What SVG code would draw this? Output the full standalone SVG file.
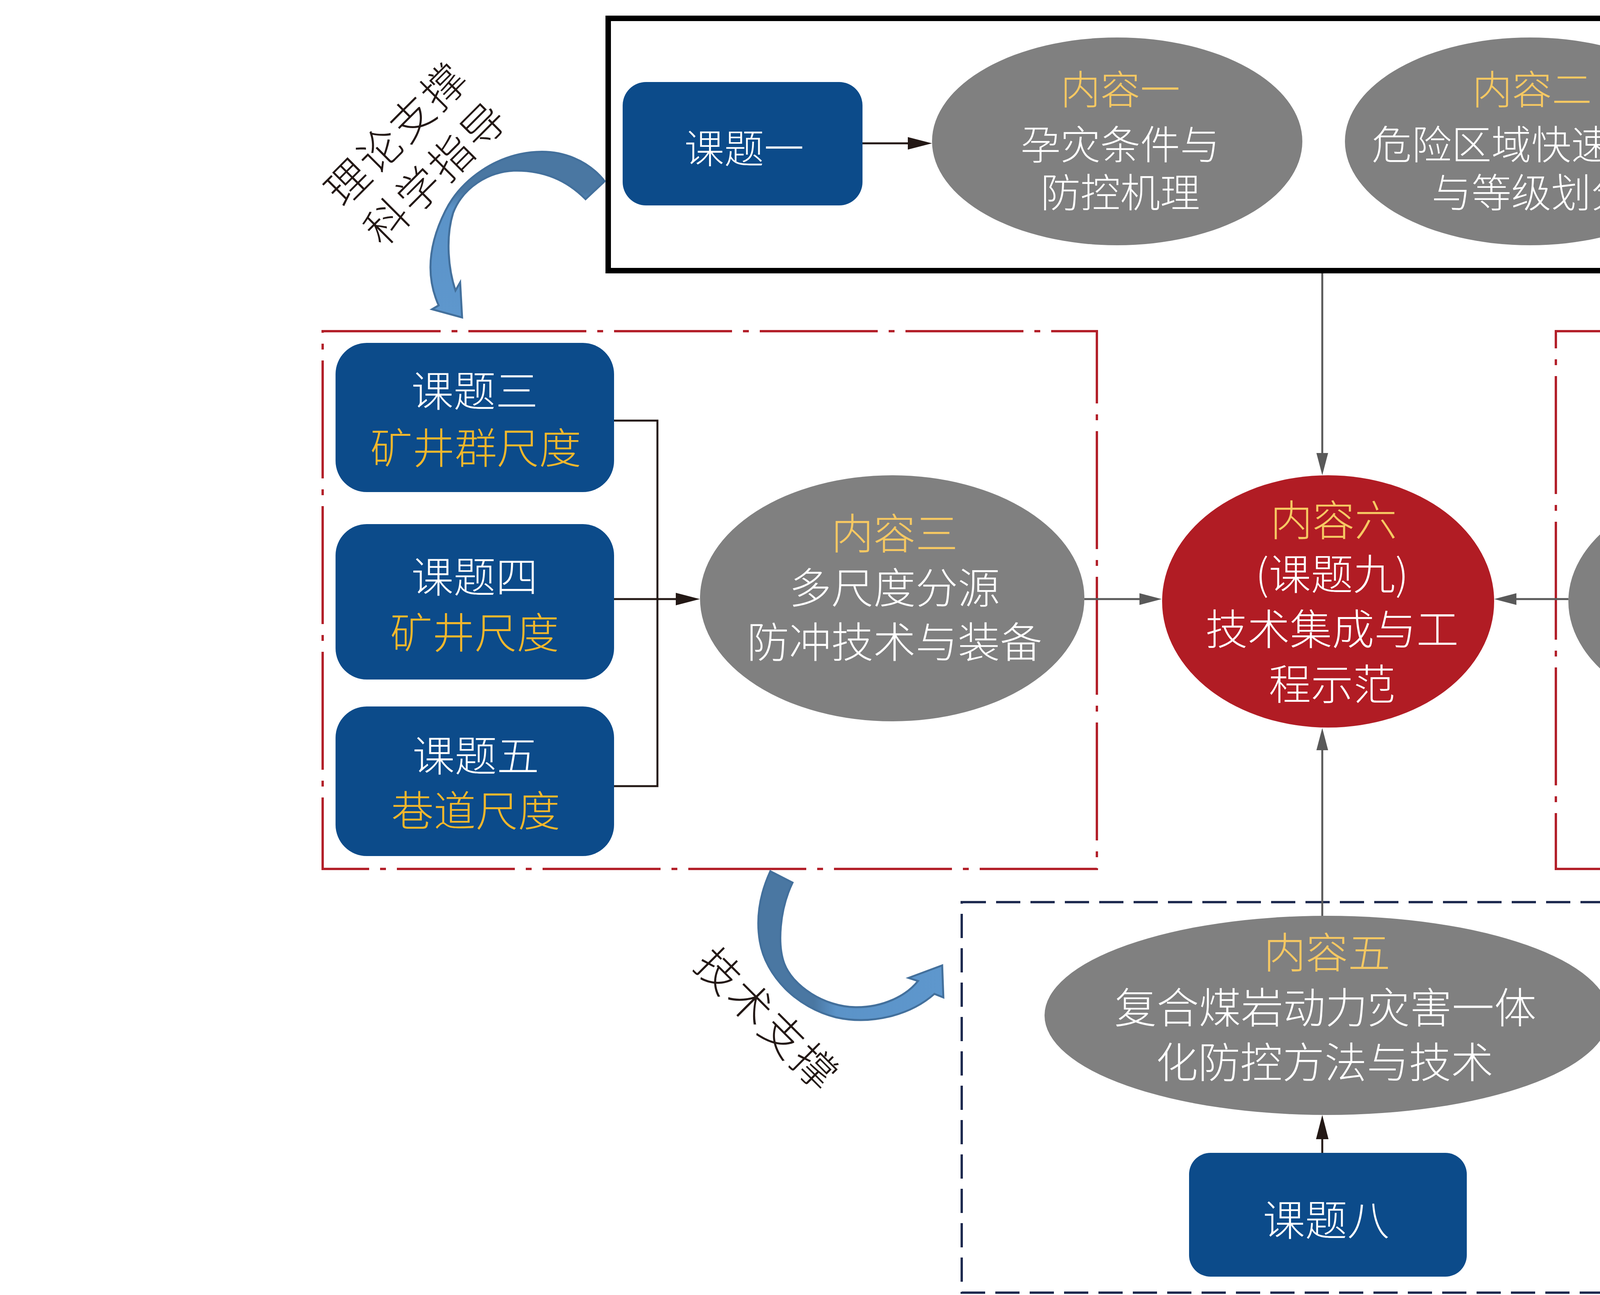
<svg xmlns="http://www.w3.org/2000/svg" width="6800" height="3316" viewBox="0 0 6800 3316">
<defs>
<style>
.txt{font-family:"Noto Sans CJK SC","Noto Sans CJK JP",sans-serif;font-weight:300;text-anchor:middle;dominant-baseline:central}
.s1{font-size:102px}
.s2{font-size:108px}
.s3{font-size:110px;letter-spacing:6px}
.w{fill:#ffffff}
.y{fill:#f6c862}
.g{fill:#f2b72c}
.k{fill:#231815}
.box{fill:#0c4b8a}
.ell{fill:#808080}
.red{fill:#b11c24}
.dk{stroke:#231815;stroke-width:5;fill:none}
.gr{stroke:#595959;stroke-width:5;fill:none}
.reddash{fill:none;stroke:#b3202a;stroke-width:6;stroke-dasharray:302 28 15 28}
.navydash{fill:none;stroke:#1f2b50;stroke-width:6;stroke-dasharray:62 26}
.frame{fill:none;stroke:#000000;stroke-width:14}
.carrow{stroke:#43709c;stroke-width:5;stroke-linejoin:miter}
</style>
<marker id="ahDark" markerUnits="userSpaceOnUse" markerWidth="62" markerHeight="34" viewBox="0 0 62 34" refX="12" refY="17" orient="auto"><path d="M0,1 L62,17 L0,33 Z" fill="#231815"/></marker>
<marker id="ahGray" markerUnits="userSpaceOnUse" markerWidth="57" markerHeight="32" viewBox="0 0 57 32" refX="10" refY="16" orient="auto"><path d="M0,1 L57,16 L0,31 Z" fill="#595959"/></marker>
<linearGradient id="gv" x1="0" y1="0" x2="0" y2="1">
<stop offset="0" stop-color="#4a77a2"/><stop offset="0.24" stop-color="#4a77a2"/><stop offset="0.34" stop-color="#5b93c8"/><stop offset="1" stop-color="#5e97cd"/>
</linearGradient>
<linearGradient id="gh" x1="0" y1="0" x2="1" y2="0">
<stop offset="0" stop-color="#4a77a2"/><stop offset="0.3" stop-color="#4a77a2"/><stop offset="0.42" stop-color="#5b93c8"/><stop offset="1" stop-color="#5e97cd"/>
</linearGradient>
<path id="arrTop" class="carrow" fill="url(#gv)" d="M1548,464 C1505,410 1440,385 1373,389 C1270,395 1180,460 1140,540 C1090,640 1095,720 1123,782 L1106,792 L1183,813 L1178,723 L1166,744 C1148,690 1140,610 1160,545 C1185,480 1250,440 1315,437 C1390,435 1450,460 1499,510 Z"/>
<path id="arrBot" class="carrow" fill="url(#gh)" d="M1972,2231 C1945,2290 1935,2350 1945,2410 C1960,2500 2040,2580 2140,2605 C2230,2625 2330,2600 2392,2545 L2415,2554 L2412,2472 L2326,2504 L2350,2512 C2320,2550 2260,2580 2190,2579 C2110,2578 2030,2525 2008,2468 C1990,2420 1995,2330 2029,2260 Z"/>
</defs>
<rect x="0" y="0" width="6800" height="3316" fill="#ffffff"/>

<g id="group-top">
<rect class="frame" x="1557" y="47" width="3649" height="646"/>
</g>
<g id="group-left">
<rect class="reddash" x="826" y="848" width="1982" height="1377"/>
</g>
<g id="group-right">
<rect class="reddash" x="3983" y="848" width="2002" height="1377"/>
</g>
<g id="group-bottom">
<rect class="navydash" x="2462" y="2310" width="1862" height="1000"/>
</g>

<g id="connectors">
<line class="dk" x1="2208" y1="367" x2="2336" y2="367" marker-end="url(#ahDark)"/>
<line class="dk" x1="4560" y1="367" x2="4441" y2="367" marker-end="url(#ahDark)"/>
<line class="gr" x1="3385" y1="700" x2="3385" y2="1170" marker-end="url(#ahGray)"/>
<line class="gr" x1="2776" y1="1534" x2="2927" y2="1534" marker-end="url(#ahGray)"/>
<line class="gr" x1="4015" y1="1534" x2="3872" y2="1534" marker-end="url(#ahGray)"/>
<line class="gr" x1="3385" y1="2346" x2="3385" y2="1911" marker-end="url(#ahGray)"/>
<line class="dk" x1="3385" y1="2952" x2="3385" y2="2905" marker-end="url(#ahDark)"/>
<polyline class="dk" points="1572,1077 1683,1077 1683,2013 1572,2013"/>
<line class="dk" x1="1572" y1="1534" x2="1742" y2="1534" marker-end="url(#ahDark)"/>
<polyline class="dk" points="5229,1152 5129,1152 5129,1931 5229,1931"/>
<line class="dk" x1="5129" y1="1540" x2="5070" y2="1540" marker-end="url(#ahDark)"/>
</g>

<g id="curved-arrows">
<use href="#arrTop"/>
<use href="#arrTop" transform="translate(6770,15) scale(-1,1)"/>
<use href="#arrBot"/>
<use href="#arrBot" transform="translate(6770,8) scale(-1,1)"/>
</g>

<g id="label-theory-left" class="txt s3 k" transform="translate(1060,387) rotate(-45)">
<text x="0" y="-71">理论支撑</text>
<text x="0" y="71">科学指导</text>
</g>
<g id="label-theory-right" class="txt s3 k" transform="translate(5695,388) rotate(45)">
<text x="0" y="-72">理论支撑</text>
<text x="0" y="72">科学指导</text>
</g>
<g id="label-tech-left" class="txt s3 k" transform="translate(1970,2605) rotate(45)">
<text x="0" y="0">技术支撑</text>
</g>
<g id="label-tech-right" class="txt s3 k" transform="translate(4746,2636) rotate(-45)">
<text x="0" y="0">技术支撑</text>
</g>

<g id="ketiyi">
<rect class="box" x="1594" y="210" width="614" height="316" rx="60" ry="60"/>
<text class="txt s1 w" x="1905" y="373">课题一</text>
</g>
<g id="neirongyi">
<ellipse class="ell" cx="2860" cy="362" rx="474" ry="266"/>
<text class="txt s1 y" x="2868" y="222">内容一</text>
<text class="txt s1 w" x="2868" y="363">孕灾条件与</text>
<text class="txt s1 w" x="2868" y="486">防控机理</text>
</g>
<g id="neironger">
<ellipse class="ell" cx="3917" cy="362" rx="474" ry="266"/>
<text class="txt s1 y" x="3922" y="222">内容二</text>
<text class="txt s1 w" x="3920" y="363">危险区域快速探测</text>
<text class="txt s1 w" x="3920" y="486">与等级划分</text>
</g>
<g id="ketier">
<rect class="box" x="4560" y="232" width="619" height="319" rx="55" ry="55"/>
<text class="txt s1 w" x="4875" y="373">课题二</text>
</g>

<g id="ketisan">
<rect class="box" x="859" y="878" width="713" height="382" rx="80" ry="80"/>
<text class="txt s2 w" x="1215" y="994">课题三</text>
<text class="txt s2 g" x="1218" y="1140">矿井群尺度</text>
</g>
<g id="ketisi">
<rect class="box" x="859" y="1342" width="713" height="398" rx="80" ry="80"/>
<text class="txt s2 w" x="1215" y="1470">课题四</text>
<text class="txt s2 g" x="1215" y="1613">矿井尺度</text>
</g>
<g id="ketiwu">
<rect class="box" x="859" y="1809" width="713" height="383" rx="80" ry="80"/>
<text class="txt s2 w" x="1218" y="1928">课题五</text>
<text class="txt s2 g" x="1218" y="2069">巷道尺度</text>
</g>
<g id="neirongsan">
<ellipse class="ell" cx="2284" cy="1532" rx="492" ry="315"/>
<text class="txt s2 y" x="2290" y="1359">内容三</text>
<text class="txt s2 w" x="2290" y="1498">多尺度分源</text>
<text class="txt s2 w" x="2290" y="1637">防冲技术与装备</text>
</g>

<g id="neirongliu">
<ellipse class="red" cx="3400" cy="1540" rx="425" ry="323"/>
<text class="txt s2 y" x="3414" y="1325">内容六</text>
<text class="txt s2 w" x="3410" y="1463">(课题九)</text>
<text class="txt s2 w" x="3410" y="1604">技术集成与工</text>
<text class="txt s2 w" x="3410" y="1745">程示范</text>
</g>

<g id="neirongsi">
<ellipse class="ell" cx="4519" cy="1540" rx="504" ry="316"/>
<text class="txt s2 y" x="4531" y="1369">内容四</text>
<text class="txt s2 w" x="4528" y="1508">区域-局部分源</text>
<text class="txt s2 w" x="4532" y="1650">防突技术与装备</text>
</g>
<g id="ketiliu">
<rect class="box" x="5229" y="937" width="713" height="426" rx="80" ry="80"/>
<text class="txt s2 w" x="5605" y="1068">课题六</text>
<text class="txt s2 g" x="5605" y="1210">井上下区域</text>
</g>
<g id="ketiqi">
<rect class="box" x="5229" y="1725" width="713" height="410" rx="80" ry="80"/>
<text class="txt s2 w" x="5580" y="1848">课题七</text>
<text class="txt s2 g" x="5577" y="1992">井下局部</text>
</g>

<g id="neirongwu">
<ellipse class="ell" cx="3397" cy="2600" rx="723" ry="255"/>
<text class="txt s2 y" x="3397" y="2432">内容五</text>
<text class="txt s2 w" x="3393" y="2573">复合煤岩动力灾害一体</text>
<text class="txt s2 w" x="3391" y="2713">化防控方法与技术</text>
</g>
<g id="ketiba">
<rect class="box" x="3044" y="2952" width="711" height="317" rx="55" ry="55"/>
<text class="txt s2 w" x="3395" y="3117">课题八</text>
</g>
</svg>
